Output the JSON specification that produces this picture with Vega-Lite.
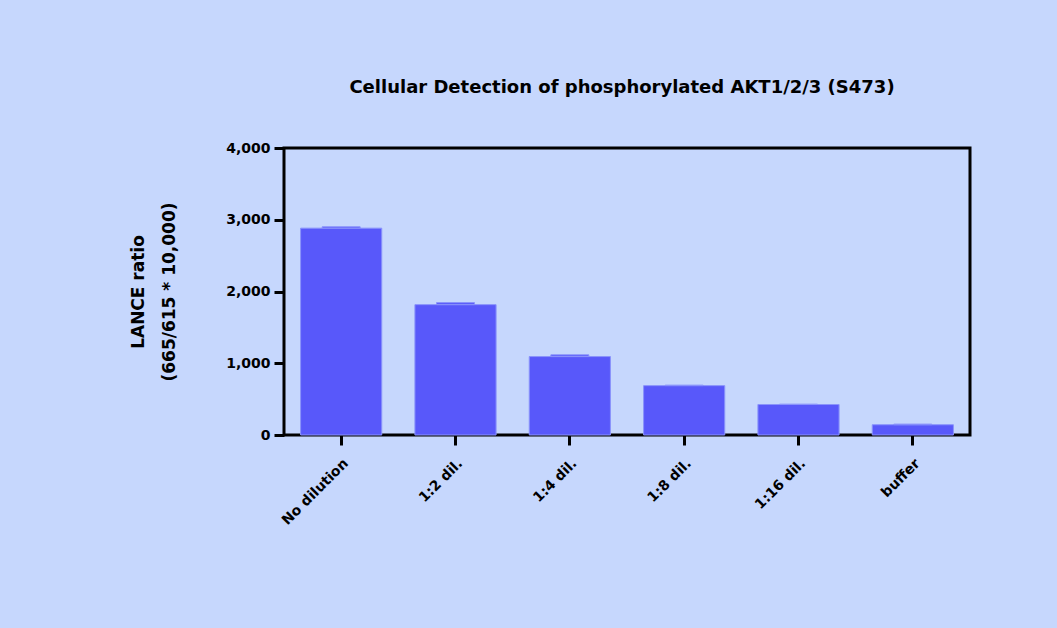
{
  "$schema": "https://vega.github.io/schema/vega-lite/v6.json",
  "width": 686,
  "height": 287,
  "autosize": {"type": "none"},
  "padding": {"left": 284, "top": 148, "right": 87, "bottom": 193},
  "background": "#c6d7fd",
  "title": {
    "text": "Cellular Detection of phosphorylated AKT1/2/3 (S473)",
    "font": "DejaVu Sans",
    "fontSize": 18,
    "fontWeight": "bold",
    "color": "#000000",
    "anchor": "middle",
    "offset": 44,
    "dx": -5
  },
  "data": {
    "values": [
      {"sample": "No dilution", "mean": 2883, "upper": 2902},
      {"sample": "1:2 dil.", "mean": 1817, "upper": 1845},
      {"sample": "1:4 dil.", "mean": 1093, "upper": 1117},
      {"sample": "1:8 dil.", "mean": 688, "upper": 695},
      {"sample": "1:16 dil.", "mean": 425, "upper": 430},
      {"sample": "buffer", "mean": 143, "upper": 152}
    ]
  },
  "encoding": {
    "x": {
      "field": "sample",
      "type": "nominal",
      "sort": null,
      "scale": {"paddingInner": 0.29, "paddingOuter": 0.145},
      "axis": {
        "title": null,
        "labelAngle": -45,
        "labelFont": "DejaVu Sans",
        "labelFontSize": 14,
        "labelFontWeight": "bold",
        "labelColor": "#000000",
        "labelPadding": 11,
        "tickSize": 10,
        "tickWidth": 3,
        "tickColor": "#000000",
        "domain": false
      }
    }
  },
  "layer": [
    {
      "mark": {"type": "bar", "color": "#5858fa", "stroke": "#8a93fb", "strokeWidth": 1},
      "encoding": {
        "y": {
          "field": "mean",
          "type": "quantitative",
          "scale": {"domain": [0, 4000], "nice": false},
          "axis": {
            "title": ["LANCE ratio", "(665/615 * 10,000)"],
            "titleFont": "DejaVu Sans",
            "titleFontSize": 17,
            "titleFontWeight": "bold",
            "titleColor": "#000000",
            "titleLineHeight": 31,
            "titleX": -137,
            "titleY": 143.5,
            "titleAlign": "center",
            "titleBaseline": "bottom",
            "titleAngle": -90,
            "values": [0, 1000, 2000, 3000, 4000],
            "format": ",d",
            "labelFont": "DejaVu Sans",
            "labelFontSize": 14,
            "labelFontWeight": "bold",
            "labelColor": "#000000",
            "labelPadding": 4,
            "tickSize": 10,
            "tickWidth": 3,
            "tickColor": "#000000",
            "domain": false,
            "grid": false
          }
        }
      }
    },
    {
      "mark": {"type": "bar", "color": "#5858fa", "stroke": "#8a93fb", "strokeWidth": 1, "size": 38},
      "encoding": {
        "y": {"field": "mean", "type": "quantitative"},
        "y2": {"field": "upper"}
      }
    }
  ],
  "config": {
    "view": {"stroke": "#000000", "strokeWidth": 3, "fill": null}
  }
}
